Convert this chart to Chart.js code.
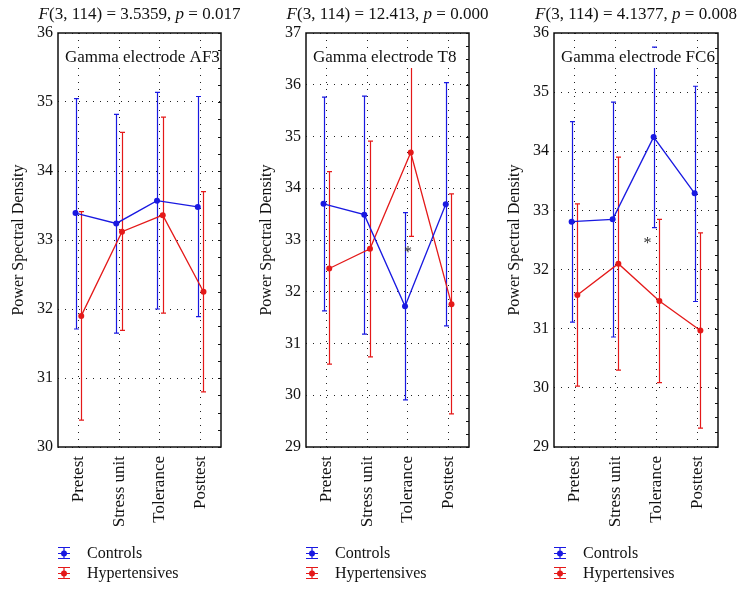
<!DOCTYPE html>
<html>
<head>
<meta charset="utf-8">
<script src="https://cdn.jsdelivr.net/npm/chart.js@4"></script>
<style>
body { margin: 0; background: #fff; width: 745px; height: 592px; overflow: hidden; display: flex; }
.panel { position: relative; width: 248px; height: 592px; }
</style>
</head>
<body>
<div class="panel"><canvas id="c0"></canvas></div>
<div class="panel"><canvas id="c1"></canvas></div>
<div class="panel" style="width:249px"><canvas id="c2"></canvas></div>
<script>
// gamma power by condition, controls vs hypertensives, 3 electrodes
const categories = ['Pretest', 'Stress unit', 'Tolerance', 'Posttest'];
const seriesNames = ['Controls', 'Hypertensives'];
const electrodes = ['AF3', 'T8', 'FC6'];
const fStats = ['3.5359', '12.413', '4.1377'];
const pStats = ['0.017', '0.000', '0.008'];
const yMins = [30, 29, 29];
const yMaxs = [36, 37, 36];

// means + ends of the error bars (one row per electrode)
const controlsMean = [[33.39, 33.24, 33.57, 33.48], [33.70, 33.49, 31.72, 33.69], [32.81, 32.85, 34.24, 33.29]];
const controlsLow  = [[31.71, 31.65, 32.00, 31.89], [31.63, 31.18, 29.91, 31.34], [31.11, 30.86, 32.71, 31.46]];
const controlsHigh = [[35.05, 34.82, 35.14, 35.08], [35.76, 35.78, 33.53, 36.04], [34.50, 34.83, 35.76, 35.10]];
const hyperMean = [[31.90, 33.12, 33.36, 32.25], [32.45, 32.83, 34.69, 31.76], [31.57, 32.10, 31.47, 30.97]];
const hyperLow  = [[30.39, 31.69, 31.94, 30.80], [30.60, 30.74, 33.07, 29.64], [30.03, 30.30, 30.09, 29.32]];
const hyperHigh = [[33.41, 34.56, 34.78, 33.70], [34.32, 34.91, 36.34, 33.89], [33.11, 33.90, 32.85, 32.62]];

// asterisk marks: [category position, value]
const stars = [null, [2.0, 32.83], [1.78, 32.5]];

const blue = 'rgb(25,25,225)';
const red = 'rgb(228,25,25)';
const FONT = '"Liberation Serif", "Times New Roman", serif';
const shift = 0.07;

function makePlugin(p) {
    return {
        id: 'extras' + p,
        beforeDatasetsDraw(chart) {
            const x = chart.scales.x, y = chart.scales.y, ctx = chart.ctx;
            chart.data.datasets.forEach(ds => {
                ctx.save();
                ctx.strokeStyle = ds.borderColor;
                ctx.lineWidth = 1.2;
                ds.data.forEach((pt, i) => {
                    const px = Math.round(x.getPixelForValue(pt.x)) + 0.5;
                    const lo = y.getPixelForValue(ds.low[i]);
                    const hi = y.getPixelForValue(ds.high[i]);
                    ctx.beginPath();
                    ctx.moveTo(px, lo); ctx.lineTo(px, hi);
                    ctx.moveTo(px - 2.5, lo); ctx.lineTo(px + 2.5, lo);
                    ctx.moveTo(px - 2.5, hi); ctx.lineTo(px + 2.5, hi);
                    ctx.stroke();
                });
                ctx.restore();
            });
        },
        afterDatasetsDraw(chart) {
            const ctx = chart.ctx, a = chart.chartArea;
            const x = chart.scales.x, y = chart.scales.y;
            ctx.save();
            // electrode label (white backing hides grid/bars behind it)
            ctx.font = '17px ' + FONT;
            const lab = 'Gamma electrode ' + electrodes[p];
            const w = ctx.measureText(lab).width;
            ctx.fillStyle = '#fff';
            ctx.fillRect(a.left + 5, a.top + 15, w + 4, 20);
            ctx.fillStyle = '#111';
            ctx.textBaseline = 'middle';
            ctx.fillText(lab, a.left + 7, a.top + 25);
            // box
            ctx.strokeStyle = '#111';
            ctx.lineWidth = 1.5;
            ctx.strokeRect(a.left, a.top, a.right - a.left, a.bottom - a.top);
            // minor ticks on right edge
            ctx.lineWidth = 1;
            for (let v = yMins[p]; v <= yMaxs[p]; v += 0.25) {
                const py = Math.round(y.getPixelForValue(v)) + 0.5;
                ctx.beginPath();
                ctx.moveTo(a.right, py); ctx.lineTo(a.right - 3, py);
                ctx.stroke();
            }
            // asterisk
            if (stars[p]) {
                ctx.font = '16px ' + FONT;
                ctx.textAlign = 'center';
                ctx.fillStyle = '#333';
                ctx.fillText('*', x.getPixelForValue(stars[p][0]), y.getPixelForValue(stars[p][1]) + 4);
            }
            ctx.restore();
        },
        afterDraw(chart) {
            const ctx = chart.ctx, a = chart.chartArea;
            ctx.save();
            ctx.fillStyle = '#111';
            ctx.textBaseline = 'middle';
            // title F(3, 114) = ..., p = ...
            const parts = [['F', true], ['(3, 114) = ' + fStats[p] + ', ', false], ['p', true], [' = ' + pStats[p], false]];
            let total = 0;
            parts.forEach(pt => {
                ctx.font = (pt[1] ? 'italic ' : '') + '17px ' + FONT;
                total += ctx.measureText(pt[0]).width;
            });
            let tx = (a.left + a.right) / 2 - total / 2;
            parts.forEach(pt => {
                ctx.font = (pt[1] ? 'italic ' : '') + '17px ' + FONT;
                ctx.fillText(pt[0], tx, 15);
                tx += ctx.measureText(pt[0]).width;
            });
            // legend
            const cols = [blue, red];
            seriesNames.forEach((name, i) => {
                const ly = 553 + i * 20;
                const lx = a.left;
                ctx.strokeStyle = cols[i];
                ctx.fillStyle = cols[i];
                ctx.lineWidth = 1.2;
                ctx.beginPath();
                ctx.moveTo(lx, ly - 5.5); ctx.lineTo(lx + 12, ly - 5.5);
                ctx.moveTo(lx, ly + 0.5); ctx.lineTo(lx + 12, ly + 0.5);
                ctx.moveTo(lx, ly + 5.5); ctx.lineTo(lx + 12, ly + 5.5);
                ctx.moveTo(lx + 6, ly - 5.5); ctx.lineTo(lx + 6, ly + 5.5);
                ctx.stroke();
                ctx.beginPath();
                ctx.arc(lx + 6, ly + 0.5, 3, 0, Math.PI * 2);
                ctx.fill();
                ctx.fillStyle = '#111';
                ctx.font = '16px ' + FONT;
                ctx.fillText(name, lx + 29, ly + 1);
            });
            ctx.restore();
        }
    };
}

function makeData(mean, dx) {
    return mean.map((v, i) => ({ x: i + dx, y: v }));
}

function drawPanel(p) {
    const ctx = document.getElementById('c' + p);
    new Chart(ctx, {
        type: 'line',
        data: {
            datasets: [{
                label: seriesNames[0],
                data: makeData(controlsMean[p], -shift),
                low: controlsLow[p],
                high: controlsHigh[p],
                borderColor: blue,
                backgroundColor: blue,
                borderWidth: 1.3,
                pointRadius: 3,
                pointBorderWidth: 0
            }, {
                label: seriesNames[1],
                data: makeData(hyperMean[p], shift),
                low: hyperLow[p],
                high: hyperHigh[p],
                borderColor: red,
                backgroundColor: red,
                borderWidth: 1.3,
                pointRadius: 3,
                pointBorderWidth: 0
            }]
        },
        options: {
            responsive: true,
            maintainAspectRatio: false,
            animation: false,
            layout: { padding: { left: 0, right: 27, top: 33, bottom: 55 } },
            plugins: { legend: { display: false }, tooltip: { enabled: false } },
            scales: {
                x: {
                    type: 'linear',
                    min: -0.5,
                    max: 3.5,
                    afterBuildTicks: s => { s.ticks = categories.map((c, i) => ({ value: i })); },
                    afterFit: s => { s.height = 90; },
                    ticks: {
                        callback: v => categories[v],
                        minRotation: 90,
                        maxRotation: 90,
                        color: '#111',
                        padding: 9,
                        font: { family: FONT, size: 17 }
                    },
                    grid: { color: '#222', lineWidth: 1, drawTicks: false },
                    border: { display: false, dash: [1, 6] }
                },
                y: {
                    min: yMins[p],
                    max: yMaxs[p],
                    afterFit: s => { s.width = 58; },
                    ticks: {
                        stepSize: 1,
                        color: '#111',
                        padding: 5,
                        font: { family: FONT, size: 16 }
                    },
                    title: {
                        display: true,
                        text: 'Power Spectral Density',
                        color: '#111',
                        padding: { top: 9, bottom: 0 },
                        font: { family: FONT, size: 16 }
                    },
                    grid: { color: '#222', lineWidth: 1, drawTicks: false },
                    border: { display: false, dash: [1, 6] }
                }
            }
        },
        plugins: [makePlugin(p)]
    });
}

[0, 1, 2].forEach(drawPanel);
</script>
</body>
</html>
